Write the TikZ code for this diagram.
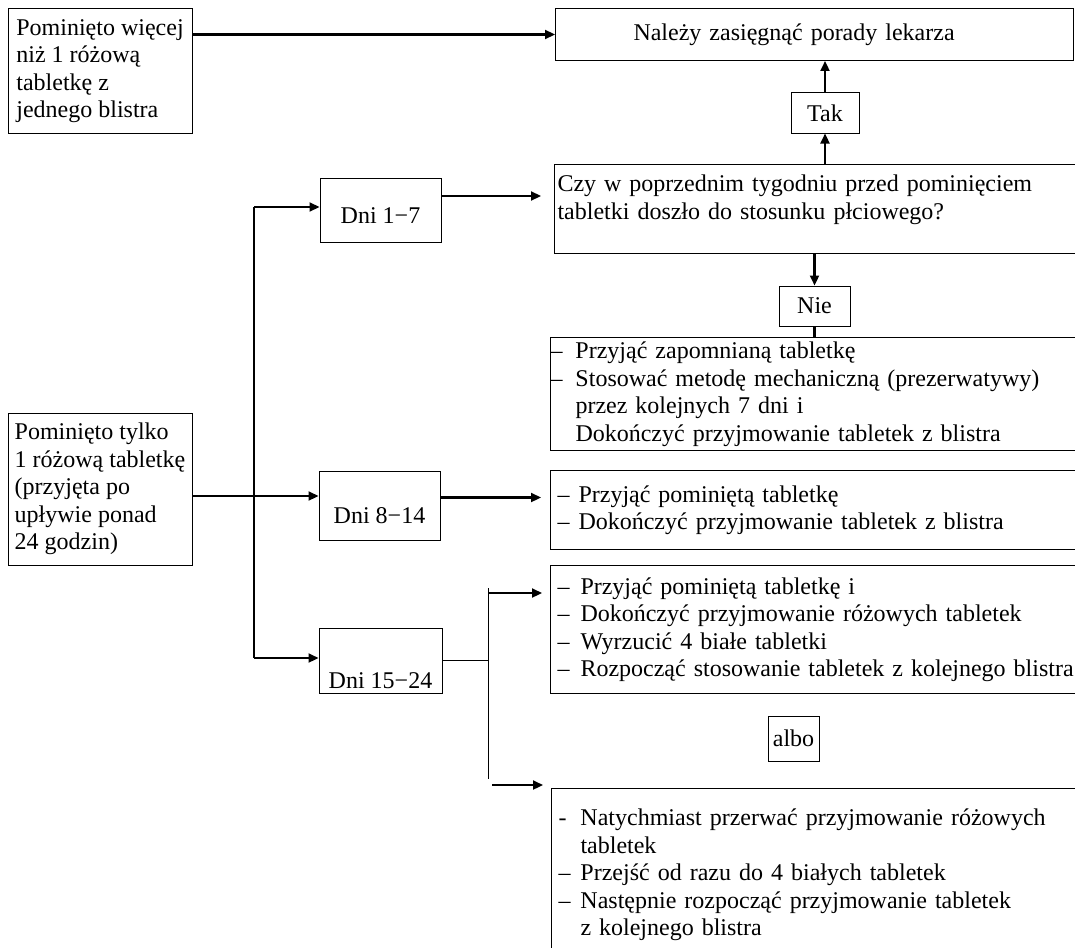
\documentclass[tikz,border=0pt]{standalone}
\usepackage{fontspec}
\setmainfont{Liberation Serif}
\usetikzlibrary{arrows.meta}
\newcommand{\pkt}[1][12.5pt]{\makebox[#1][l]{–}}
\newcommand{\wc}[1][12.5pt]{\hspace*{#1}}
\tikzstyle{block} = [draw, rectangle, line width=0.5pt, inner sep=0pt, font=\fontsize{12pt}{13.75pt}\selectfont]
\tikzstyle{lista} = [block, anchor=north west, align=left, text width=265pt]
\tikzstyle{to} = [-{Triangle[length=5pt,width=4.5pt]}, line width=1.1pt]
\tikzstyle{cienka} = [line width=0.5pt]

\begin{document}
\begin{tikzpicture}[x=0.5pt, y=-0.5pt]
	\useasboundingbox (0,0) rectangle (1075,947);
	\clip (0,0) rectangle (1075,947);
	\fill[white] (0,0) rectangle (1075,947);
	\node (wiecej) [block, align=left, minimum width=92pt, minimum height=62pt] at (100,71) {Pominięto więcej\\niż 1 różową\\tabletkę z\\jednego blistra};
	\node (tylko) [block, align=left, minimum width=92pt, minimum height=76pt] at (100,489) {Pominięto tylko\\1 różową tabletkę\\(przyjęta po\\upływie ponad\\24 godzin)};
	\node (lekarz) [block, anchor=north west, align=left, text width=181pt, inner xsep=39pt, minimum height=26pt] at (555,8) {Należy zasięgnąć porady lekarza};
	\node (tak) [block, minimum width=34pt, minimum height=20pt] at (825,113) {Tak};
	\node (pyt) [lista, inner xsep=1.5pt, minimum height=44.5pt] at (554,164) {Czy w poprzednim tygodniu przed pominięciem\\tabletki doszło do stosunku płciowego?\rule[-12pt]{0pt}{12pt}};
	\node (d1) [block, minimum width=60.5pt, minimum height=32pt, text height=13pt, text depth=0pt] at (380.5,210) {Dni 1−7};
	\node (nie) [block, minimum width=35.5pt, minimum height=20pt] at (814.5,306) {Nie};
	\node (r1) [lista, minimum height=56.5pt] at (550,337) {\pkt Przyjąć zapomnianą tabletkę\\\pkt Stosować metodę mechaniczną (prezerwatywy)\\\wc przez kolejnych 7 dni i\\\wc Dokończyć przyjmowanie tabletek z blistra};
	\node (d8) [block, minimum width=60.5pt, minimum height=34.5pt, text height=17.5pt, text depth=0pt] at (379.5,505.5) {Dni 8−14};
	\node (r8) [lista, inner xsep=3.5pt, minimum height=39.5pt] at (550,470) {\pkt[10.5pt]Przyjąć pominiętą tabletkę\\\pkt[10.5pt]Dokończyć przyjmowanie tabletek z blistra};
	\node (d15) [block, minimum width=61.5pt, minimum height=32.5pt, text height=27.5pt, text depth=0pt] at (380.5,660.5) {Dni 15−24};
	\node (r15a) [lista, inner xsep=3.5pt, minimum height=64pt] at (550,565) {\pkt[11.5pt]Przyjąć pominiętą tabletkę i\\\pkt[11.5pt]Dokończyć przyjmowanie różowych tabletek\\\pkt[11.5pt]Wyrzucić 4 białe tabletki\\\pkt[11.5pt]Rozpocząć stosowanie tabletek z kolejnego blistra};
	\node (albo) [block, minimum width=25.5pt, minimum height=22.5pt] at (793.5,738.5) {albo};
	\node (r15b) [lista, inner xsep=3.5pt, inner ysep=10.3pt] at (551,788) {\makebox[11pt][l]{-}Natychmiast przerwać przyjmowanie różowych\\\wc[11pt]tabletek\\\pkt[11pt]Przejść od razu do 4 białych tabletek\\\pkt[11pt]Następnie rozpocząć przyjmowanie tabletek\\\wc[11pt]z kolejnego blistra};
	\coordinate (g1) at (254,207);
	\coordinate (g2) at (254,658);
	\coordinate (h1) at (488,588);
	\coordinate (h2) at (488,779);
	\coordinate (f1) at (492,785);
	\draw [to] (lekarz.west -| wiecej.east) -- (lekarz.west);
	\draw [to] (pyt.north -| tak.south) -- (tak.south);
	\draw [to] (tak.north) -- (tak.north |- lekarz.south);
	\draw [line width=0.7pt] (g1) -- (g2);
	\draw [to] (g1) -- (g1 -| d1.west);
	\draw [to] (g2) -- (g2 -| d15.west);
	\draw [to] ([yshift=-3.5pt]tylko.east) -- ([yshift=-3.5pt]tylko.east -| d8.west);
	\draw [to, shorten >=6.5pt] ([yshift=7pt]d1.east) -- ([yshift=7pt]d1.east -| pyt.west);
	\draw [to] (nie.north |- pyt.south) -- (nie.north);
	\draw [line width=1.1pt] (nie.south) -- (nie.south |- r1.north);
	\draw [to, shorten >=4.5pt] ([yshift=4pt]d8.east) -- ([yshift=4pt]d8.east -| r8.west);
	\draw [cienka] (d15.east) -- (d15.east -| h1);
	\draw [cienka] (h1) -- (h2);
	\draw [to, shorten >=4pt] ([yshift=-2.5pt]h1) -- ([yshift=-2.5pt]h1 -| r15a.west);
	\draw [to, shorten >=4pt] (f1) -- (f1 -| r15b.west);
\end{tikzpicture}
\end{document}
